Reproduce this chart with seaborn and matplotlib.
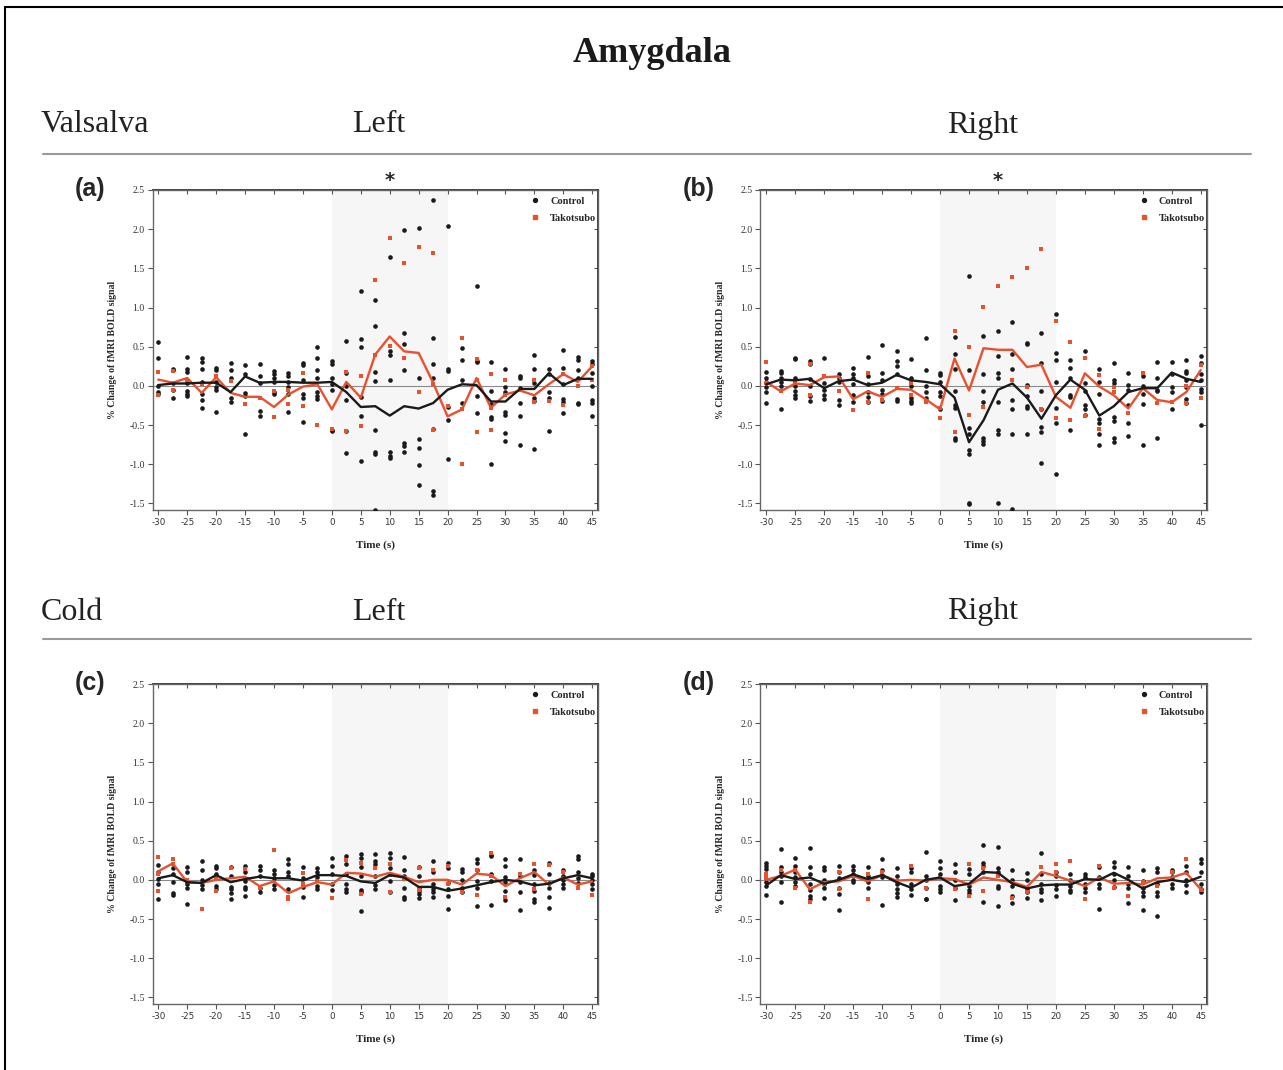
import matplotlib
matplotlib.use("Agg")
import matplotlib.pyplot as plt
from matplotlib.lines import Line2D
import numpy as np
import pandas as pd
import seaborn as sns

# ---------------- data ----------------
times = [-30, -27.5, -25, -22.5, -20, -17.5, -15, -12.5, -10, -7.5, -5, -2.5, 0,
         2.5, 5, 7.5, 10, 12.5, 15, 17.5, 20, 22.5, 25, 27.5, 30, 32.5, 35, 37.5,
         40, 42.5, 45]
x_ticks = [-30, -25, -20, -15, -10, -5, 0, 5, 10, 15, 20, 25, 30, 35, 40, 45]
y_ticks = [-1.5, -1.0, -0.5, 0.0, 0.5, 1.0, 1.5, 2.0, 2.5]
panel_labels = ["(a)", "(b)", "(c)", "(d)"]
series_names = ["Control", "Takotsubo"]

# Panel (a) Valsalva - Left
a_ctrl_mean = [0.01, 0.03, 0.03, 0.04, 0.04, -0.08, 0.12, 0.04, 0.05, 0.05, 0.04, 0.04, 0.05,
               -0.08, -0.27, -0.26, -0.38, -0.26, -0.29, -0.22, -0.05, 0.02, 0.01, -0.20, -0.20,
               -0.04, -0.04, 0.16, 0.01, 0.09, 0.09]
a_tako_mean = [0.08, 0.04, 0.10, -0.09, 0.11, -0.09, -0.14, -0.14, -0.27, -0.11, -0.01, 0.02, -0.30,
               0.05, -0.15, 0.40, 0.63, 0.44, 0.42, 0.04, -0.39, -0.30, 0.10, -0.28, -0.11,
               -0.06, -0.12, 0.02, 0.15, 0.05, 0.25]
a_ctrl_pts = [[0.56, 0.36, 0.0, -0.08, -0.10], [0.22, 0.20, 0.03, -0.05, -0.16],
              [0.37, 0.22, 0.18, 0.03, -0.07, -0.10, -0.13], [0.35, 0.30, 0.22, 0.05, -0.10, -0.18, -0.28],
              [0.23, 0.20, 0.05, -0.02, -0.05, -0.33], [0.29, 0.20, 0.10, -0.15, -0.20],
              [0.26, 0.15, -0.09, -0.13, -0.62], [0.28, 0.13, 0.04, -0.32, -0.38],
              [0.19, 0.15, 0.10, 0.05, -0.08, -0.11], [0.16, 0.13, 0.05, -0.02, -0.10, -0.34],
              [0.29, 0.27, 0.08, -0.10, -0.15, -0.46], [0.50, 0.35, 0.20, 0.10, -0.08, -0.13, -0.17],
              [0.32, 0.28, 0.10, 0.02, -0.05, -0.57, -0.58], [0.57, 0.17, 0.0, -0.18, -0.58, -0.86],
              [1.21, 0.60, 0.50, -0.14, -0.39, -0.96], [1.09, 0.77, 0.18, 0.06, -0.57, -0.84, -0.87, -1.58],
              [1.64, 0.45, 0.40, 0.08, -0.85, -0.90, -0.92], [1.99, 0.67, 0.53, 0.20, -0.73, -0.77, -0.84],
              [2.01, 0.10, -0.68, -0.79, -1.01, -1.26], [2.37, 0.61, 0.28, 0.10, -0.55, -1.34, -1.39],
              [2.04, 0.22, 0.19, -0.27, -0.44, -0.93], [0.48, 0.33, 0.08, -0.22],
              [1.28, 0.32, 0.30, -0.13, -0.35], [0.30, -0.06, -0.23, -0.40, -0.42, -1.00],
              [0.21, -0.02, -0.08, -0.33, -0.37, -0.60, -0.71], [0.13, 0.10, -0.03, -0.22, -0.39, -0.75],
              [0.39, 0.21, 0.03, -0.15, -0.19, -0.81], [0.22, 0.15, -0.08, -0.15, -0.58],
              [0.46, 0.23, 0.02, -0.17, -0.20, -0.35], [0.37, 0.33, 0.20, 0.10, -0.22, -0.23],
              [0.32, 0.28, 0.17, 0.0, -0.18, -0.22, -0.38]]
a_tako_pts = [[0.18, -0.12], [0.19, -0.05], [0.08], [0.02], [0.13], [0.06], [-0.23], [-0.15],
              [-0.07, -0.40], [-0.05, -0.23], [0.17, -0.26], [-0.50], [-0.55], [0.18, -0.58],
              [0.13, -0.51], [1.35, 0.40], [1.89, 0.51], [1.57, 0.35], [1.77, -0.08],
              [1.70, 0.02, -0.57], [-0.26], [0.61, -0.30, -1.00], [0.34, 0.08, -0.59],
              [0.15, -0.28, -0.56], [0.07, -0.12], [-0.05], [0.07, -0.20], [-0.19],
              [0.15, -0.24], [0.0], [0.25, 0.07]]

# Panel (b) Valsalva - Right
b_ctrl_mean = [0.02, 0.08, 0.07, 0.09, -0.03, 0.06, 0.08, 0.01, 0.04, 0.14, 0.07, 0.05, 0.02,
               -0.15, -0.72, -0.44, -0.05, 0.03, -0.15, -0.42, -0.12, 0.08, -0.05, -0.38, -0.26,
               -0.08, -0.03, -0.03, 0.17, 0.09, 0.05]
b_tako_mean = [0.05, -0.07, 0.03, 0.01, 0.11, 0.12, -0.17, -0.07, -0.14, -0.04, -0.05, -0.17, -0.30,
               0.35, -0.06, 0.48, 0.46, 0.46, 0.24, 0.27, -0.14, -0.28, 0.16, -0.01, -0.12,
               -0.29, -0.03, -0.18, -0.21, -0.08, 0.20]
b_ctrl_pts = [[0.18, 0.10, 0.05, -0.02, -0.08, -0.22], [0.19, 0.16, 0.10, 0.05, 0.0, -0.30],
              [0.36, 0.34, 0.10, 0.0, -0.06, -0.12, -0.15], [0.32, 0.28, 0.09, 0.0, -0.13, -0.19],
              [0.36, 0.03, -0.05, -0.12, -0.17], [0.15, 0.10, 0.05, -0.18, -0.25],
              [0.23, 0.15, 0.10, 0.02, -0.12, -0.20], [0.37, 0.12, 0.02, -0.08, -0.14, -0.20],
              [0.52, 0.17, 0.08, -0.05, -0.10, -0.19], [0.45, 0.32, 0.25, 0.15, -0.17, -0.19],
              [0.34, 0.10, 0.0, -0.15, -0.19, -0.22], [0.61, 0.20, 0.0, -0.08, -0.15],
              [0.16, 0.14, 0.05, -0.08, -0.13, -0.30], [0.62, 0.41, 0.22, -0.06, -0.25, -0.28, -0.66, -0.69],
              [1.40, 0.20, -0.54, -0.62, -0.82, -0.87, -1.49, -1.51], [0.64, 0.15, -0.06, -0.21, -0.67, -0.71, -0.74],
              [0.70, 0.38, 0.16, 0.10, -0.21, -0.57, -0.62, -1.49], [0.81, 0.41, 0.21, -0.18, -0.29, -0.61, -1.57],
              [0.55, 0.53, 0.01, -0.13, -0.26, -0.28, -0.62], [0.68, 0.29, -0.06, -0.29, -0.53, -0.59, -0.99],
              [0.92, 0.42, 0.33, 0.05, -0.28, -0.48, -1.13], [0.33, 0.23, 0.10, -0.12, -0.14, -0.57],
              [0.45, 0.04, -0.07, -0.24, -0.29, -0.37], [0.22, 0.05, -0.10, -0.42, -0.47, -0.62, -0.75],
              [0.29, 0.07, 0.03, -0.40, -0.45, -0.67, -0.72], [0.17, 0.01, -0.05, -0.24, -0.48, -0.64],
              [0.13, 0.0, -0.11, -0.23, -0.76], [0.31, 0.10, -0.05, -0.07, -0.67],
              [0.30, 0.15, -0.02, -0.08, -0.30], [0.33, 0.19, 0.16, 0.08, -0.02, -0.17, -0.22],
              [0.38, 0.29, 0.15, 0.08, -0.04, -0.08, -0.50]]
b_tako_pts = [[0.30, 0.04], [-0.07], [0.03], [0.28, -0.12], [0.12], [-0.06], [-0.31], [0.17, -0.21],
              [-0.18], [-0.03], [0.03, -0.12], [-0.20], [-0.28, -0.41], [0.70, -0.59], [0.49, -0.37],
              [1.01, -0.27], [1.28], [1.39, 0.07], [1.51, -0.02], [1.75, -0.29], [0.83, -0.41],
              [0.56, -0.44], [0.35, -0.38], [0.14, -0.55], [-0.01, -0.08], [-0.35], [0.16],
              [-0.22], [-0.20], [0.0, -0.22], [0.27, -0.15]]

# Panel (c) Cold - Left
c_ctrl_mean = [0.02, 0.06, -0.03, -0.04, 0.06, -0.03, 0.01, 0.04, 0.02, 0.02, -0.01, 0.06, 0.06,
               0.05, -0.02, -0.04, 0.06, 0.03, -0.09, -0.09, -0.14, -0.11, -0.07, -0.03, 0.0,
               -0.02, -0.07, -0.05, 0.02, 0.06, 0.02]
c_tako_mean = [0.11, 0.21, -0.03, -0.04, 0.0, 0.02, 0.04, -0.08, -0.02, -0.17, -0.09, -0.03, -0.06,
               0.09, 0.08, 0.04, 0.09, 0.04, -0.03, 0.0, 0.0, -0.06, 0.08, 0.06, -0.08,
               0.02, 0.10, -0.06, 0.03, -0.06, -0.02]
c_ctrl_pts = [[0.19, 0.10, 0.01, -0.05, -0.25], [0.15, 0.08, -0.03, -0.17, -0.19],
              [0.16, 0.10, -0.03, -0.05, -0.10, -0.31], [0.24, 0.12, 0.0, -0.07, -0.12],
              [0.18, 0.15, 0.08, -0.08, -0.12], [0.16, 0.05, -0.09, -0.12, -0.17, -0.25],
              [0.18, 0.10, -0.02, -0.09, -0.12, -0.21], [0.18, 0.12, 0.05, -0.10, -0.16],
              [0.13, 0.08, 0.02, -0.06, -0.12], [0.26, 0.20, 0.10, 0.05, -0.12],
              [0.16, 0.02, -0.09, -0.22], [0.15, 0.10, 0.03, -0.08, -0.12],
              [0.28, 0.18, 0.08, -0.05, -0.13], [0.30, 0.20, 0.07, -0.05, -0.12, -0.15],
              [0.33, 0.28, 0.17, 0.05, -0.13, -0.16, -0.40], [0.33, 0.24, 0.20, 0.05, -0.07, -0.12],
              [0.34, 0.28, 0.15, 0.08, -0.02, -0.15], [0.29, 0.12, 0.05, -0.10, -0.22, -0.25],
              [0.17, 0.05, -0.10, -0.14, -0.18, -0.23], [0.24, 0.10, -0.05, -0.12, -0.16, -0.22],
              [0.22, 0.15, -0.04, -0.12, -0.20, -0.37], [0.14, 0.10, 0.0, -0.10, -0.16],
              [0.27, 0.22, 0.13, -0.02, -0.10, -0.33], [0.32, 0.30, 0.07, -0.02, -0.32],
              [0.27, 0.18, 0.04, -0.03, -0.14, -0.26], [0.27, 0.05, -0.03, -0.15, -0.38],
              [0.13, 0.06, -0.05, -0.14, -0.24, -0.28], [0.21, 0.08, -0.04, -0.10, -0.22, -0.36],
              [0.12, 0.05, 0.0, -0.05, -0.10], [0.31, 0.27, 0.10, 0.02, -0.04],
              [0.08, 0.05, 0.0, -0.05, -0.12]]
c_tako_pts = [[0.29, 0.08, -0.14], [0.26, 0.20], [0.0], [-0.37], [0.02, -0.14], [0.15], [0.14],
              [-0.11], [0.38], [-0.22, -0.25], [0.09, -0.05], [-0.02], [-0.23], [0.25],
              [0.22, -0.18], [0.15], [0.20, -0.15], [0.01], [0.15, -0.13], [0.12], [0.18, -0.05],
              [-0.16], [0.12, -0.19], [0.34, 0.05], [-0.22], [0.08], [0.20, -0.12], [0.19],
              [0.10], [-0.10], [-0.19]]

# Panel (d) Cold - Right
d_ctrl_mean = [-0.07, 0.06, 0.01, 0.03, -0.05, 0.0, 0.07, 0.01, 0.06, -0.03, -0.10, 0.0, 0.03,
               -0.08, -0.05, 0.10, 0.09, -0.05, -0.11, -0.07, -0.06, -0.06, 0.01, 0.0, 0.09,
               0.0, -0.11, -0.03, 0.0, -0.03, 0.04]
d_tako_mean = [0.0, 0.05, 0.13, -0.12, -0.03, -0.02, 0.05, -0.02, 0.06, -0.01, 0.0, -0.01, 0.02,
               0.01, -0.06, 0.03, 0.0, -0.03, -0.09, 0.10, 0.05, -0.01, -0.08, 0.03, -0.05,
               -0.04, -0.06, 0.02, 0.03, 0.09, -0.12]
d_ctrl_pts = [[0.22, 0.18, 0.14, -0.03, -0.08, -0.19], [0.39, 0.17, 0.10, 0.05, -0.03, -0.28],
              [0.28, 0.18, 0.10, 0.03, -0.03, -0.08], [0.41, 0.16, 0.07, -0.05, -0.13, -0.20, -0.25],
              [0.17, 0.12, 0.0, -0.05, -0.10, -0.23], [0.18, 0.10, 0.02, -0.10, -0.18, -0.38],
              [0.18, 0.13, 0.08, 0.0, -0.03], [0.17, 0.05, -0.03, -0.10],
              [0.27, 0.12, 0.06, 0.03, -0.32], [0.15, 0.05, -0.05, -0.12, -0.17, -0.22],
              [0.15, 0.10, -0.05, -0.12, -0.19], [0.35, 0.05, 0.0, -0.10, -0.24, -0.25],
              [0.24, 0.15, 0.08, -0.08, -0.12, -0.15], [0.20, 0.10, 0.0, -0.10, -0.26],
              [0.14, 0.07, -0.08, -0.13, -0.17], [0.45, 0.21, 0.18, 0.10, -0.28],
              [0.42, 0.15, 0.10, -0.08, -0.11, -0.33], [0.12, 0.0, -0.08, -0.21, -0.30],
              [0.09, 0.0, -0.12, -0.16, -0.23], [0.34, 0.08, -0.05, -0.12, -0.16, -0.26],
              [0.10, 0.05, -0.07, -0.12, -0.20], [0.07, 0.0, -0.08, -0.13, -0.16],
              [0.08, 0.03, -0.05, -0.10, -0.15], [0.17, 0.03, -0.05, -0.10, -0.37],
              [0.23, 0.17, 0.08, 0.0, -0.09], [0.17, 0.05, -0.05, -0.10, -0.29],
              [0.13, -0.02, -0.10, -0.16, -0.20, -0.38], [0.15, 0.10, -0.05, -0.15, -0.20, -0.46],
              [0.13, 0.10, 0.03, -0.05, -0.10], [0.18, 0.10, 0.0, -0.06, -0.15],
              [0.26, 0.21, 0.10, -0.05, -0.12, -0.15]]
d_tako_pts = [[0.07, 0.02], [0.12], [0.13, -0.10], [-0.28], [-0.05], [0.10, -0.12], [0.05],
              [0.07, -0.24], [0.10], [-0.02], [0.18], [-0.10], [0.02], [-0.12], [0.20, -0.20],
              [0.15, -0.14], [0.05], [-0.23], [-0.15], [0.17], [0.20, 0.10], [0.24], [-0.25],
              [0.18], [-0.10], [-0.20], [-0.03], [-0.08], [0.10], [0.27], [-0.13]]

# ---------------- style ----------------
sns.set_theme(style="white")
plt.rcParams["font.family"] = ["Liberation Serif", "DejaVu Serif"]

W, H = 1283, 1070
fig = plt.figure(figsize=(W / 100, H / 100), dpi=100)
fig.patch.set_facecolor("white")

RED = "#E9502E"
BLK = "#1a1a1a"
SERIF = "Liberation Serif"


def fx(px):
    return px / W


def fy(py):
    return 1 - py / H


def long_points(pts):
    rows = []
    for t, vals in zip(times, pts):
        for v in vals:
            rows.append((t, v))
    return pd.DataFrame(rows, columns=["time", "value"])


def draw_panel(box, ctrl_mean, tako_mean, ctrl_pts, tako_pts, label, star):
    l, t, r, b = box
    ax = fig.add_axes([fx(l), fy(b), fx(r - l), (b - t) / H])
    ax.set_facecolor("white")
    ax.axvspan(0, 20, color="#f6f6f6", zorder=0, lw=0)
    ax.axhline(0, color="#8a8a8a", lw=0.8, zorder=0.5)

    dfc = long_points(ctrl_pts)
    dft = long_points(tako_pts)
    sns.scatterplot(data=dfc, x="time", y="value", ax=ax, color=BLK, marker="o",
                    s=11, linewidth=0, zorder=3, legend=False)
    sns.scatterplot(data=dft, x="time", y="value", ax=ax, color=RED, marker="s",
                    s=11, linewidth=0, zorder=3, legend=False)
    mc = pd.DataFrame({"time": times, "value": ctrl_mean})
    mt = pd.DataFrame({"time": times, "value": tako_mean})
    sns.lineplot(data=mt, x="time", y="value", ax=ax, color=RED, lw=1.7,
                 estimator=None, zorder=4, legend=False)
    sns.lineplot(data=mc, x="time", y="value", ax=ax, color=BLK, lw=1.7,
                 estimator=None, zorder=5, legend=False)

    ax.set_xlim(-31.0, 46.0)
    ax.set_ylim(-1.585, 2.5)
    ax.set_xticks(x_ticks)
    ax.set_xticklabels([str(v) for v in x_ticks], fontfamily="DejaVu Sans",
                       fontsize=6.3, color="#333333")
    ax.set_yticks(y_ticks)
    ax.set_yticklabels([f"{v:.1f}" for v in y_ticks], fontfamily=SERIF,
                       fontsize=7, color="#333333")
    ax.tick_params(axis="both", direction="out", length=3.5, width=0.8,
                   color="#555555", pad=2, left=True, bottom=True)
    for sp in ax.spines.values():
        sp.set_color("#666666")
        sp.set_linewidth(1.0)
        sp.set_visible(True)

    top = ax.secondary_xaxis("top")
    top.set_xticks(x_ticks)
    top.tick_params(direction="in", length=3, width=0.8, color="#555555",
                    labeltop=False)
    top.set_xticklabels([])
    right = ax.secondary_yaxis("right")
    right.set_yticks(y_ticks)
    right.tick_params(direction="in", length=3, width=0.8, color="#555555",
                      labelright=False)
    right.set_yticklabels([])

    ax.set_xlabel("Time (s)", fontfamily=SERIF, fontweight="bold", fontsize=8,
                  labelpad=10)
    ax.set_ylabel("% Change of fMRI BOLD signal", fontfamily=SERIF,
                  fontweight="bold", fontsize=7, labelpad=9)

    handles = [Line2D([], [], ls="none", marker="o", color=BLK, markersize=2.8),
               Line2D([], [], ls="none", marker="s", color=RED, markersize=3.0)]
    ax.legend(handles, series_names, loc="upper right", frameon=False,
              bbox_to_anchor=(1.01, 1.0), borderaxespad=0.2, handletextpad=0.9,
              labelspacing=0.75, handlelength=1.0,
              prop={"family": SERIF, "weight": "bold", "size": 7.5})

    fig.text(fx(l - 62), fy(t - 1), label, fontfamily="Liberation Sans",
             fontweight="bold", fontsize=18, ha="center", va="center")
    if star:
        ax.text(10, 1.0, "*", transform=ax.get_xaxis_transform(), ha="center",
                va="bottom", fontsize=14, fontweight="bold", fontfamily="DejaVu Sans")
    return ax


boxes = [(152.5, 190, 598, 510), (760.5, 190, 1206.5, 510),
         (152.5, 684, 598, 1004), (760.5, 684, 1206.5, 1004)]
draw_panel(boxes[0], a_ctrl_mean, a_tako_mean, a_ctrl_pts, a_tako_pts, panel_labels[0], True)
draw_panel(boxes[1], b_ctrl_mean, b_tako_mean, b_ctrl_pts, b_tako_pts, panel_labels[1], True)
draw_panel(boxes[2], c_ctrl_mean, c_tako_mean, c_ctrl_pts, c_tako_pts, panel_labels[2], False)
draw_panel(boxes[3], d_ctrl_mean, d_tako_mean, d_ctrl_pts, d_tako_pts, panel_labels[3], False)

# ---------------- headings ----------------
fig.text(fx(652), fy(54), "Amygdala", fontfamily=SERIF, fontweight="bold",
         fontsize=26, ha="center", va="center", color="#1a1a1a")
for y_row, cond in [(125, "Valsalva"), (612, "Cold")]:
    fig.text(fx(41), fy(y_row), cond, fontfamily=SERIF, fontsize=23,
             ha="left", va="center", color="#222222")
    fig.text(fx(379), fy(y_row), "Left", fontfamily=SERIF, fontsize=23,
             ha="center", va="center", color="#222222")
    fig.text(fx(983), fy(y_row), "Right", fontfamily=SERIF, fontsize=23,
             ha="center", va="center", color="#222222")

for y_line in [153.5, 639]:
    fig.add_artist(Line2D([fx(43), fx(1251)], [fy(y_line), fy(y_line)],
                          color="#9a9a9a", lw=1.5))

# outer frame
fig.add_artist(Line2D([fx(5), fx(5)], [fy(7), fy(1070)], color="black", lw=1.5))
fig.add_artist(Line2D([fx(5), fx(1283)], [fy(7), fy(7)], color="black", lw=1.5))

fig.savefig("out.png", dpi=100, facecolor="white")
